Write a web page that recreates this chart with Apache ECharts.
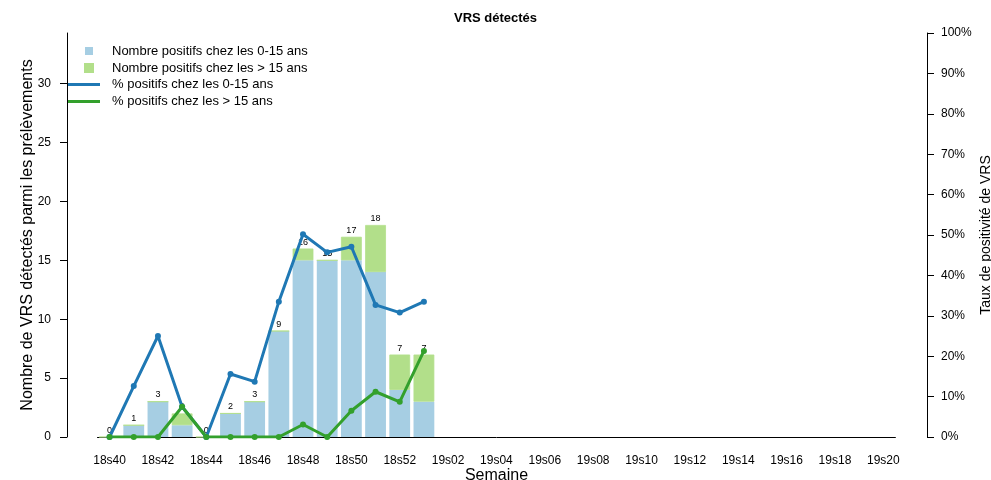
<!DOCTYPE html>
<html>
<head>
<meta charset="utf-8">
<script src="https://cdn.jsdelivr.net/npm/echarts@6/dist/echarts.min.js"></script>
<style>html,body{margin:0;padding:0;background:#fff}#c{width:991px;height:480px}</style>
</head>
<body>
<div id="c"></div>
<script>
var categories = ['18s40','18s41','18s42','18s43','18s44','18s45','18s46','18s47','18s48','18s49','18s50','18s51','18s52',
  '19s01','19s02','19s03','19s04','19s05','19s06','19s07','19s08','19s09','19s10','19s11','19s12','19s13','19s14','19s15','19s16','19s17','19s18','19s19','19s20'];
var pos015 = [0,1,3,1,0,2,3,9,15,15,15,14,4,3];
var posOver15 = [0,0,0,1,0,0,0,0,1,0,2,4,3,4];
var totals = [0,1,3,2,0,2,3,9,16,15,17,18,7,7];
var pct015 = [0,12.6,25,7.5,0,15.6,13.7,33.5,50.2,45.7,47.1,32.7,30.8,33.5];
var pctOver15 = [0,0,0,7.5,0,0,0,0,3.1,0,6.5,11.2,8.7,21.3];
var leftTicks = [0,5,10,15,20,25,30];

var FONT = 'Liberation Sans, Arial, sans-serif';
var chart = echarts.init(document.getElementById('c'), null, {renderer:'canvas'});
var axisCol = '#000';
chart.setOption({
  animation: false,
  textStyle: {fontFamily: FONT},
  title: {text: 'VRS détectés', left: 'center', top: 7,
    textStyle: {fontSize: 13, fontWeight: 'bold', color: '#000', fontFamily: FONT}},
  legend: [
    {orient: 'vertical', left: 79, top: 39.5, itemWidth: 8, itemHeight: 8, itemGap: 4,
     textStyle: {fontSize: 13, color: '#000', padding: [0,0,0,14], fontFamily: FONT},
     data: [{name: 'Nombre positifs chez les 0-15 ans', icon: 'rect'},
            {name: 'Nombre positifs chez les > 15 ans', icon: 'rect'}]},
    {orient: 'vertical', left: 63, top: 73, itemWidth: 32, itemHeight: 3, itemGap: 4,
     textStyle: {fontSize: 13, color: '#000', padding: [0,0,0,7], fontFamily: FONT},
     data: [{name: '% positifs chez les 0-15 ans', icon: 'rect'},
            {name: '% positifs chez les > 15 ans', icon: 'rect'}]}
  ],
  grid: {left: 97.5, right: 95.6, top: 33, bottom: 43, containLabel: false, outerBoundsMode: 'none'},
  xAxis: {
    type: 'category', data: categories,
    name: 'Semaine', nameLocation: 'middle', nameGap: 31, nameMoveOverlap: false,
    nameTextStyle: {fontSize: 16, color: '#000', fontFamily: FONT},
    axisLine: {lineStyle: {color: axisCol, width: 1}},
    axisTick: {alignWithLabel: true, interval: 0, length: 6, lineStyle: {color: axisCol}},
    axisLabel: {interval: 1, fontSize: 12, color: '#000', margin: 18, fontFamily: FONT}
  },
  yAxis: [
    {type: 'value', min: 0, max: 34.3, position: 'left', offset: 30.5,
     name: 'Nombre de VRS détectés parmi les prélèvements', nameLocation: 'middle', nameGap: 31, nameMoveOverlap: false,
     nameTextStyle: {fontSize: 16, color: '#000', fontFamily: FONT},
     splitLine: {show: false},
     axisLine: {show: true, lineStyle: {color: axisCol}},
     axisTick: {show: true, length: 7, customValues: leftTicks, lineStyle: {color: axisCol}},
     axisLabel: {fontSize: 12, color: '#000', margin: 16, customValues: leftTicks, fontFamily: FONT}},
    {type: 'value', min: 0, max: 100, interval: 10, position: 'right', offset: 31.6,
     name: 'Taux de positivité de VRS', nameLocation: 'middle', nameGap: 52, nameRotate: 90, nameMoveOverlap: false,
     nameTextStyle: {fontSize: 14, color: '#000', fontFamily: FONT},
     splitLine: {show: false},
     axisLine: {show: true, lineStyle: {color: axisCol}},
     axisTick: {show: true, length: 7, lineStyle: {color: axisCol}},
     axisLabel: {fontSize: 12, color: '#000', margin: 14, formatter: '{value}%', fontFamily: FONT}}
  ],
  series: [
    {name: 'Nombre positifs chez les 0-15 ans', type: 'bar', stack: 'n', data: pos015,
     barCategoryGap: '14%', itemStyle: {color: '#a6cee3'}, z: 2},
    {name: 'Nombre positifs chez les > 15 ans', type: 'bar', stack: 'n', data: posOver15,
     barCategoryGap: '14%', itemStyle: {color: '#b2df8a', borderColor: '#b2df8a', borderWidth: 0.8}, z: 2,
     label: {show: true, position: 'top', distance: 2, fontSize: 9, color: '#000', fontFamily: FONT,
       formatter: function(p){ return String(totals[p.dataIndex]); }}},
    {name: '% positifs chez les 0-15 ans', type: 'line', yAxisIndex: 1, data: pct015,
     symbol: 'circle', symbolSize: 6, lineStyle: {width: 3, color: '#1f78b4'}, itemStyle: {color: '#1f78b4'}, z: 3},
    {name: '% positifs chez les > 15 ans', type: 'line', yAxisIndex: 1, data: pctOver15,
     symbol: 'circle', symbolSize: 6, lineStyle: {width: 3, color: '#33a02c'}, itemStyle: {color: '#33a02c'}, z: 3}
  ]
});
</script>
</body>
</html>
